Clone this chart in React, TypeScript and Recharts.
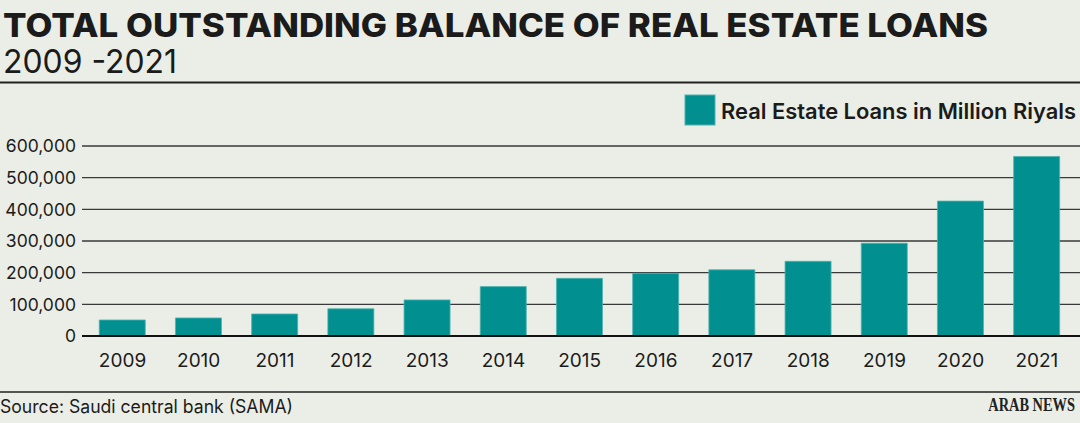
import React from 'react';
import { BarChart, Bar, XAxis, YAxis, CartesianGrid, Legend } from 'recharts';

const years = ['2009', '2010', '2011', '2012', '2013', '2014', '2015', '2016', '2017', '2018', '2019', '2020', '2021'];
const loans = [50600, 57000, 69600, 86000, 114000, 156000, 182000, 198000, 209000, 236000, 293000, 426000, 567000];
const yTicks = [0, 100000, 200000, 300000, 400000, 500000, 600000];

const seriesName = 'Real Estate Loans in Million Riyals';
const titleText = 'TOTAL OUTSTANDING BALANCE OF REAL ESTATE LOANS';
const subtitleText = '2009 -2021';
const sourceText = 'Source: Saudi central bank (SAMA)';
const brandText = 'ARAB NEWS';

const data = years.map((y, i) => ({ year: y, value: loans[i] }));

const BG = '#ebeee6';
const TEAL = '#01908f';
const INK = '#1b1b1b';
const FONT = 'Inter, "Noto Sans", sans-serif';

const fmt = (v: number) => v.toLocaleString('en-US');

const LegendContent = () => (
  <svg width={400} height={34} style={{ display: 'block' }}>
    <rect x={1} y={1} width={30} height={30} fill={TEAL} stroke="#4fb2b0" strokeWidth={1} />
    <text
      x={37}
      y={25}
      fontFamily={FONT}
      fontSize={22}
      fontWeight={600}
      fill={INK}
      textLength={355}
      lengthAdjust="spacingAndGlyphs"
    >
      {seriesName}
    </text>
  </svg>
);

export default function App() {
  return (
    <div
      style={{
        position: 'absolute',
        left: 0,
        top: 0,
        width: 1080,
        height: 423,
        background: BG,
        overflow: 'hidden',
        fontFamily: FONT,
      }}
    >
      <svg width={1080} height={423} style={{ position: 'absolute', left: 0, top: 0 }}>
        <text
          x={3}
          y={37}
          fontFamily={FONT}
          fontSize={33}
          fontWeight={800}
          fill={INK}
          textLength={985}
          lengthAdjust="spacingAndGlyphs"
        >
          {titleText}
        </text>
        <text
          x={3}
          y={73}
          fontFamily={FONT}
          fontSize={33}
          fontWeight={400}
          fill={INK}
          textLength={174}
          lengthAdjust="spacingAndGlyphs"
        >
          {subtitleText}
        </text>
        <line x1={0} x2={1080} y1={82.5} y2={82.5} stroke="#222" strokeWidth={2} />
        <line x1={0} x2={1080} y1={392} y2={392} stroke="#222" strokeWidth={1.5} />
        <text
          x={0}
          y={413}
          fontFamily={FONT}
          fontSize={18}
          fontWeight={400}
          fill={INK}
          textLength={293}
          lengthAdjust="spacingAndGlyphs"
        >
          {sourceText}
        </text>
        <g transform="translate(1075,411) scale(0.8,1)">
          <text
            x={0}
            y={0}
            textAnchor="end"
            fontFamily='"Liberation Serif", "DejaVu Serif", serif'
            fontSize={18}
            fontWeight={700}
            fill="#222"
          >
            {brandText}
          </text>
        </g>
      </svg>
      <div style={{ position: 'absolute', left: 0, top: 0 }}>
        <BarChart
          width={1080}
          height={423}
          data={data}
          margin={{ top: 146, right: 0, bottom: 47, left: 0 }}
          barCategoryGap="19.5%"
        >
          <CartesianGrid vertical={false} stroke="#3a3a3a" strokeWidth={1.3} />
          <XAxis
            dataKey="year"
            height={40}
            padding={{ left: 2.4, right: 5 }}
            tickLine={false}
            axisLine={{ stroke: '#111', strokeWidth: 2 }}
            tickMargin={12}
            tick={{ fill: INK, fontSize: 19, fontFamily: FONT }}
            interval={0}
          />
          <YAxis
            width={82}
            domain={[0, 600000]}
            ticks={yTicks}
            tickFormatter={fmt}
            tickLine={false}
            axisLine={false}
            tickSize={0}
            tickMargin={6}
            tick={{ fill: INK, fontSize: 17.5, fontFamily: FONT }}
            interval={0}
          />
          <Legend
            layout="horizontal"
            verticalAlign="middle"
            align="center"
            content={<LegendContent />}
            wrapperStyle={{ position: 'absolute', left: 684, top: 94, width: 400, height: 34 }}
          />
          <Bar dataKey="value" name={seriesName} fill={TEAL} stroke="#4fb2b0" strokeWidth={0.8} isAnimationActive={false} />
        </BarChart>
      </div>
    </div>
  );
}
